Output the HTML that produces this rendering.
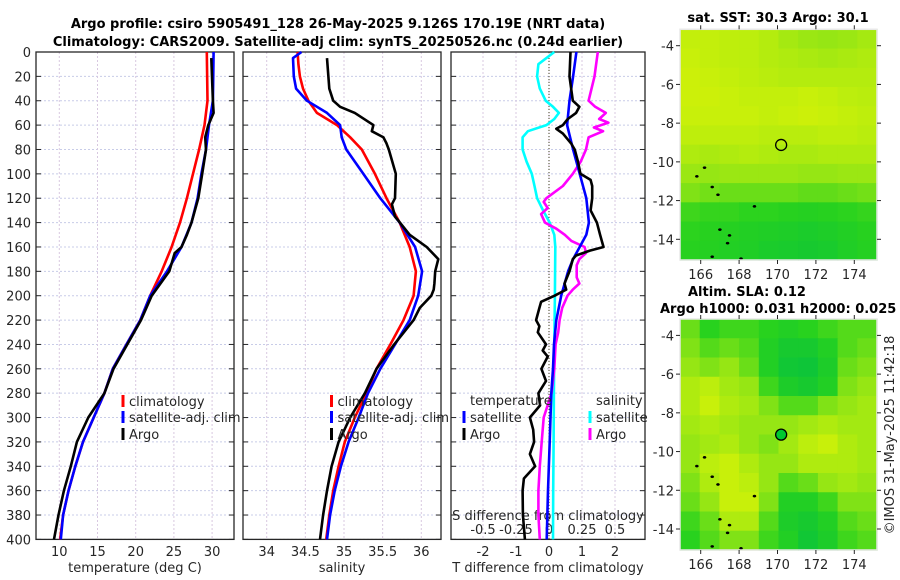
<!DOCTYPE html>
<html><head><meta charset="utf-8">
<style>
html,body{margin:0;padding:0;background:#fff;}
svg{display:block;font-family:"DejaVu Sans","Liberation Sans",sans-serif;}
</style></head>
<body>
<svg id="fig" width="900" height="580" viewBox="0 0 900 580" xmlns="http://www.w3.org/2000/svg">
<g font-weight="bold" font-size="13" fill="#000" text-anchor="middle">
<text x="338" y="28">Argo profile: csiro 5905491_128 26-May-2025 9.126S 170.19E (NRT data)</text>
<text x="338" y="46">Climatology: CARS2009. Satellite-adj clim: synTS_20250526.nc (0.24d earlier)</text>
<text x="778" y="22">sat. SST: 30.3 Argo: 30.1</text>
<text x="688" y="296" text-anchor="start">Altim. SLA: 0.12</text>
<text x="660" y="313" text-anchor="start">Argo h1000: 0.031 h2000: 0.025</text>
</g>
<text x="0" y="0" font-size="13" fill="#262626" text-anchor="middle" transform="translate(894,435) rotate(-90)">©IMOS 31-May-2025 11:42:18</text>
<g id="plots"></g>
</svg>
<script>
// ---------- profile data ----------
const depthTclim = [0,40,60,80,100,120,140,160,180,200,220,240,260,280,300,320,340,360,380,400];
const tempClim   = [29.3,29.4,29.0,28.3,27.5,26.7,25.8,24.7,23.4,21.9,20.6,18.8,17.0,15.9,14.5,13.1,12.1,11.2,10.5,10.1];
const depthTsat  = [0,40,60,80,100,120,140,160,180,200,220,240,260,280,300,320,340,360,380,400];
const tempSat    = [30.2,30.1,29.6,29.2,28.6,28.1,27.3,26.0,24.1,21.9,20.6,18.8,17.0,15.9,14.5,13.1,12.1,11.2,10.5,10.2];
const depthTargo = [5,40,50,60,70,80,100,120,140,150,160,165,180,200,220,240,260,280,300,320,340,360,380,400];
const tempArgo   = [29.9,30.1,30.2,29.5,29.1,29.2,28.7,28.2,27.3,26.7,26.0,25.1,24.4,22.1,20.7,18.9,17.1,15.9,13.8,12.3,11.5,10.6,9.9,9.3];

const depthSclim = [0,10,20,30,40,50,60,70,80,100,120,140,160,180,200,220,240,260,280,300,320,340,360,380,400];
const salClim    = [34.40,34.41,34.43,34.47,34.54,34.65,34.91,35.08,35.23,35.40,35.55,35.72,35.85,35.93,35.90,35.77,35.60,35.42,35.29,35.14,35.01,34.93,34.86,34.81,34.77];
const depthSsat  = [0,5,20,30,40,50,60,70,80,100,120,140,160,180,200,220,240,260,280,300,320,340,360,380,400];
const salSat     = [34.45,34.34,34.35,34.38,34.52,34.78,34.95,34.97,35.03,35.25,35.47,35.72,35.92,36.01,35.96,35.85,35.66,35.47,35.31,35.19,35.06,34.96,34.88,34.82,34.78];
const depthSargo = [5,30,40,45,50,60,65,70,75,80,100,120,125,135,150,160,170,180,190,195,200,210,220,240,260,280,300,320,340,360,380,400];
const salArgo    = [34.78,34.81,34.86,34.95,35.14,35.38,35.36,35.51,35.55,35.58,35.67,35.66,35.62,35.66,35.85,36.07,36.22,36.18,36.17,36.16,36.13,35.98,35.90,35.65,35.42,35.27,35.08,34.93,34.84,34.78,34.73,34.69];

// differences from climatology
const depthDTsat = [0,20,40,60,80,100,120,140,150,160,170,180,200,220,240,260,280,320,360,400];
const dTsat      = [0.83,0.73,0.62,0.55,0.73,0.93,1.13,1.21,1.13,0.93,0.73,0.58,0.37,0.22,0.15,0.12,0.07,0.02,-0.03,-0.07];
const depthDTargo = [0,20,40,45,50,55,60,63,67,75,80,90,100,105,110,120,130,140,150,160,163,167,170,180,190,195,200,205,210,220,225,230,240,245,250,260,270,280,290,300,310,320,330,340,350,360,380,400];
const dTargo      = [0.65,0.62,0.72,0.92,0.82,0.57,0.42,0.22,0.42,0.67,0.78,0.88,0.95,1.26,1.31,1.31,1.26,1.45,1.55,1.65,1.24,0.82,0.72,0.62,0.47,0.52,0.17,-0.24,-0.29,-0.39,-0.29,-0.34,-0.09,-0.19,-0.04,-0.23,-0.09,-0.32,-0.27,-0.58,-0.48,-0.45,-0.58,-0.42,-0.76,-0.80,-0.79,-0.73];
const depthDSsat = [0,10,20,30,40,45,50,55,60,65,70,80,90,100,110,120,130,140,150,160,200,240,280,320,360,400];
const dSsat      = [0.04,-0.08,-0.09,-0.07,-0.025,0.03,0.075,0.04,-0.02,-0.16,-0.20,-0.20,-0.17,-0.13,-0.11,-0.09,-0.045,0.005,0.04,0.048,0.045,0.04,0.037,0.035,0.032,0.03];
const depthDSargo = [0,20,40,45,50,55,58,62,65,70,80,90,100,110,120,123,128,133,140,145,150,155,160,165,170,175,185,190,195,200,210,220,230,240,260,280,300,320,340,360,380,400];
const dSargo      = [0.37,0.345,0.30,0.35,0.43,0.38,0.45,0.34,0.41,0.30,0.28,0.24,0.18,0.105,-0.02,-0.04,-0.01,-0.06,-0.03,0.055,0.12,0.17,0.27,0.28,0.23,0.21,0.21,0.23,0.18,0.14,0.10,0.08,0.07,0.05,0.04,0.02,-0.04,-0.055,-0.07,-0.08,-0.08,-0.07];

// axis ticks
const depthTicks = [0,20,40,60,80,100,120,140,160,180,200,220,240,260,280,300,320,340,360,380,400];
const tempTicks = [10,15,20,25,30];
const salTicks = [34,34.5,35,35.5,36];
const dTTicks = [-2,-1,0,1,2];
const dSTicks = [-0.5,-0.25,0,0.25,0.5];
const dSTickLabels = ["-0.5","-0.25","0","0.25","0.5"];

// ---------- map data (rows from north to south, cols west to east) ----------
const mapLonTicks = [166,168,170,172,174];
const mapLatTicks = [-4,-6,-8,-10,-12,-14];
const sstGrid = [
[0.78,0.78,0.76,0.75,0.72,0.66,0.62,0.60,0.62,0.66],
[0.80,0.78,0.76,0.75,0.72,0.70,0.68,0.66,0.68,0.70],
[0.82,0.80,0.78,0.76,0.74,0.72,0.72,0.72,0.72,0.72],
[0.82,0.82,0.80,0.78,0.78,0.78,0.80,0.78,0.75,0.74],
[0.80,0.80,0.80,0.80,0.78,0.80,0.82,0.80,0.78,0.76],
[0.76,0.76,0.76,0.76,0.74,0.74,0.74,0.76,0.76,0.74],
[0.70,0.68,0.70,0.72,0.70,0.68,0.68,0.70,0.70,0.70],
[0.62,0.60,0.62,0.62,0.62,0.62,0.60,0.60,0.62,0.62],
[0.55,0.52,0.50,0.50,0.50,0.50,0.48,0.48,0.50,0.52],
[0.40,0.38,0.38,0.36,0.36,0.34,0.32,0.34,0.36,0.38],
[0.36,0.34,0.32,0.30,0.28,0.26,0.24,0.26,0.30,0.34],
[0.34,0.32,0.30,0.28,0.24,0.22,0.20,0.22,0.28,0.32]];
const slaGrid = [
[0.50,0.35,0.40,0.40,0.35,0.30,0.35,0.40,0.45,0.45],
[0.55,0.45,0.50,0.45,0.30,0.20,0.20,0.30,0.45,0.50],
[0.60,0.55,0.60,0.50,0.30,0.15,0.12,0.25,0.50,0.55],
[0.70,0.75,0.65,0.60,0.40,0.25,0.20,0.30,0.55,0.60],
[0.70,0.80,0.70,0.65,0.55,0.45,0.45,0.55,0.60,0.65],
[0.65,0.70,0.65,0.60,0.60,0.60,0.65,0.70,0.65,0.65],
[0.60,0.65,0.70,0.60,0.55,0.65,0.75,0.80,0.70,0.65],
[0.60,0.75,0.80,0.70,0.60,0.60,0.70,0.70,0.70,0.65],
[0.55,0.70,0.80,0.75,0.60,0.45,0.50,0.60,0.65,0.60],
[0.50,0.60,0.80,0.80,0.55,0.30,0.30,0.40,0.55,0.55],
[0.40,0.50,0.70,0.70,0.45,0.25,0.20,0.30,0.45,0.50],
[0.35,0.45,0.55,0.55,0.40,0.30,0.15,0.25,0.40,0.45]];
const argoLon = 170.19, argoLat = -9.126;
const islandLon = [165.8,166.2,166.6,166.9,167.0,167.5,167.4,168.8,166.6,168.1];
const islandLat = [-10.75,-10.3,-11.3,-11.7,-13.5,-13.8,-14.2,-12.3,-14.9,-15.0];

// ---------- drawing ----------
const NS = "http://www.w3.org/2000/svg";
const root = document.getElementById('plots');
function mk(tag, attrs, parent){ const e=document.createElementNS(NS,tag); for(const k in attrs) e.setAttribute(k,attrs[k]); (parent||root).appendChild(e); return e; }

const Y0 = 52, YS = 1.2185;
const yDepth = d => Y0 + d*YS;
const xTemp = t => 59.3 + (t-10)*7.64;
const xSal = s => 266.7 + (s-34)*77.3;
const xDT = d => 549 + d*33;
const xDS = d => 549 + d*132;
const panels = [{x0:36,x1:234,name:'temperature-panel'},{x0:243,x1:441,name:'salinity-panel'},{x0:451,x1:645,name:'difference-panel'}];
const YB = yDepth(400);

panels.forEach((p,i)=>{
  const g = mk('g',{});
  
  
  depthTicks.forEach(d=>{
    const y=yDepth(d);
    const l = mk('line',{x1:p.x0,x2:p.x1,y1:y,y2:y,stroke:'#c8cce8','stroke-width':1,'stroke-dasharray':'2,2'},g);
    
    
    mk('line',{x1:p.x0,x2:p.x0+5,y1:y,y2:y,stroke:'#262626','stroke-width':1},g);
    mk('line',{x1:p.x1-5,x2:p.x1,y1:y,y2:y,stroke:'#262626','stroke-width':1},g);
  });
  const xt = i===0?tempTicks.map(xTemp):i===1?salTicks.map(xSal):dTTicks.map(xDT);
  xt.forEach(x=>{
    const l = mk('line',{x1:x,x2:x,y1:Y0,y2:YB,stroke:'#d8c8e0','stroke-width':1,'stroke-dasharray':'2,2'},g);
    
    
  });
  const r = mk('rect',{x:p.x0,y:Y0,width:p.x1-p.x0,height:YB-Y0,fill:'none',stroke:'#262626','stroke-width':1.3},g);
  
  
});

depthTicks.forEach(d=>{
  const t = mk('text',{x:31,y:yDepth(d)+5,'font-size':13,fill:'#262626','text-anchor':'end'});
  
  
  t.textContent = d;
});
function xLabels(ticks, fx, labels, y){
  ticks.forEach((v,k)=>{
    const t = mk('text',{x:fx(v),y:y,'font-size':13,fill:'#262626','text-anchor':'middle'});
    
    
    t.textContent = labels?labels[k]:String(v);
  });
}
xLabels(tempTicks,xTemp,null,556);
xLabels(salTicks,xSal,null,556);
xLabels(dTTicks,xDT,null,556);
xLabels(dSTicks,xDS,dSTickLabels,534);
function label(txt,x,y,name,anchor){
  const t = mk('text',{x:x,y:y,'font-size':13,fill:'#262626','text-anchor':anchor||'middle'});
  
  
  t.textContent = txt; return t;
}
label('temperature (deg C)',135,572,'temperature-axis-title');
label('salinity',342,572,'salinity-axis-title');
label('T difference from climatology',548,572,'t-difference-axis-title');
label('S difference from climatology',548,520,'s-difference-axis-title');

const z = mk('line',{x1:xDT(0),x2:xDT(0),y1:Y0,y2:YB,stroke:'#404020','stroke-width':1,'stroke-dasharray':'1,2'});



function series(depths, vals, fx, color, name, w){
  const pts = depths.map((d,k)=>fx(vals[k]).toFixed(1)+','+yDepth(d).toFixed(1)).join(' ');
  const pl = mk('polyline',{points:pts,fill:'none',stroke:color,'stroke-width':w||2.6,'stroke-linejoin':'round'});
  
  
}
series(depthTclim,tempClim,xTemp,'#ff0000','temperature-climatology-line');
series(depthTsat,tempSat,xTemp,'#0000ff','temperature-satellite-line');
series(depthTargo,tempArgo,xTemp,'#000000','temperature-argo-line');
series(depthSclim,salClim,xSal,'#ff0000','salinity-climatology-line');
series(depthSsat,salSat,xSal,'#0000ff','salinity-satellite-line');
series(depthSargo,salArgo,xSal,'#000000','salinity-argo-line');
series(depthDSsat,dSsat,xDS,'#00ffff','salinity-satellite-diff-line');
series(depthDSargo,dSargo,xDS,'#ff00ff','salinity-argo-diff-line');
series(depthDTsat,dTsat,xDT,'#0000ff','temperature-satellite-diff-line');
series(depthDTargo,dTargo,xDT,'#000000','temperature-argo-diff-line');

function legendEntry(x,y,color,txt,name){
  const m = mk('rect',{x:x-1.5,y:y-6,width:3,height:12,fill:color});
  
  
  const t = mk('text',{x:x+6,y:y+5,'font-size':13,fill:'#262626'});
  
  
  t.textContent = txt;
}
[[123,'temp'],[331.5,'sal']].forEach(([x,n])=>{
  legendEntry(x,401,'#ff0000','climatology',n+'-legend-climatology');
  legendEntry(x,417,'#0000ff','satellite-adj. clim',n+'-legend-satellite');
  legendEntry(x,434,'#000000','Argo',n+'-legend-argo');
});
label('temperature',470,405,'diff-legend-temperature-header','start');
label('salinity',596,405,'diff-legend-salinity-header','start');
legendEntry(464,417,'#0000ff','satellite','diff-legend-t-satellite');
legendEntry(464,434,'#000000','Argo','diff-legend-t-argo');
legendEntry(590,417,'#00ffff','satellite','diff-legend-s-satellite');
legendEntry(590,434,'#ff00ff','Argo','diff-legend-s-argo');

// ---------- maps ----------
const stops = [[0,[0,190,70]],[0.35,[40,210,30]],[0.6,[150,230,20]],[0.8,[200,240,10]],[1,[240,235,0]]];
function cmap(v){
  for(let k=1;k<stops.length;k++){ if(v<=stops[k][0]){ const a=stops[k-1],b=stops[k]; const f=(v-a[0])/(b[0]-a[0]);
    return 'rgb('+a[1].map((c,j)=>Math.round(c+(b[1][j]-c)*f)).join(',')+')'; } }
  return 'rgb(240,235,0)';
}
function drawMap(grid, top, bottom, name, filled){
  const x0=680,x1=877;
  const lonX = lo => 700.7 + (lo-166)*19.2;
  const latY = la => (top+16.4) + (-4-la)*19.36;
  const g = mk('g',{});
  
  
  const rows=grid.length, cols=grid[0].length, cw=(x1-x0)/cols, rh=(bottom-top)/rows;
  grid.forEach((row,r)=>row.forEach((v,c)=>{
    const cell = mk('rect',{x:(x0+c*cw).toFixed(2),y:(top+r*rh).toFixed(2),width:(cw+0.6).toFixed(2),height:(rh+0.6).toFixed(2),fill:cmap(v)},g);
    
    
  }));
  islandLon.forEach((lo,k)=>{
    const isl = mk('ellipse',{cx:lonX(lo),cy:latY(islandLat[k]),rx:1.6,ry:1.1,fill:'#000',stroke:'#000','stroke-width':0.5},g);
    
    
  });
  const fr = mk('rect',{x:x0,y:top,width:x1-x0,height:bottom-top,fill:'none',stroke:'#e8e8e8','stroke-width':1.5},g);
  
  
  const m = mk('circle',{cx:lonX(argoLon),cy:latY(argoLat),r:5.5,fill:filled?'#00c830':'none',stroke:'#000','stroke-width':1.3},g);
  
  
  mapLatTicks.forEach(la=>{
    const y=latY(la);
    mk('line',{x1:x0-4,x2:x0,y1:y,y2:y,stroke:'#262626'},g);
    mk('line',{x1:x1,x2:x1+4,y1:y,y2:y,stroke:'#262626'},g);
    const t = mk('text',{x:x0-6,y:y+5,'font-size':13,fill:'#262626','text-anchor':'end'},g);
    
    
    t.textContent = la;
  });
  mapLonTicks.forEach(lo=>{
    const x=lonX(lo);
    mk('line',{x1:x,x2:x,y1:bottom,y2:bottom+4,stroke:'#262626'},g);
    mk('line',{x1:x,x2:x,y1:top-4,y2:top,stroke:'#262626'},g);
    const t = mk('text',{x:x,y:bottom+19,'font-size':13,fill:'#262626','text-anchor':'middle'},g);
    
    
    t.textContent = lo;
  });
}
drawMap(sstGrid,29.3,260,'sst-map',false);
drawMap(slaGrid,319,550,'sla-map',true);
</script>
</body></html>
